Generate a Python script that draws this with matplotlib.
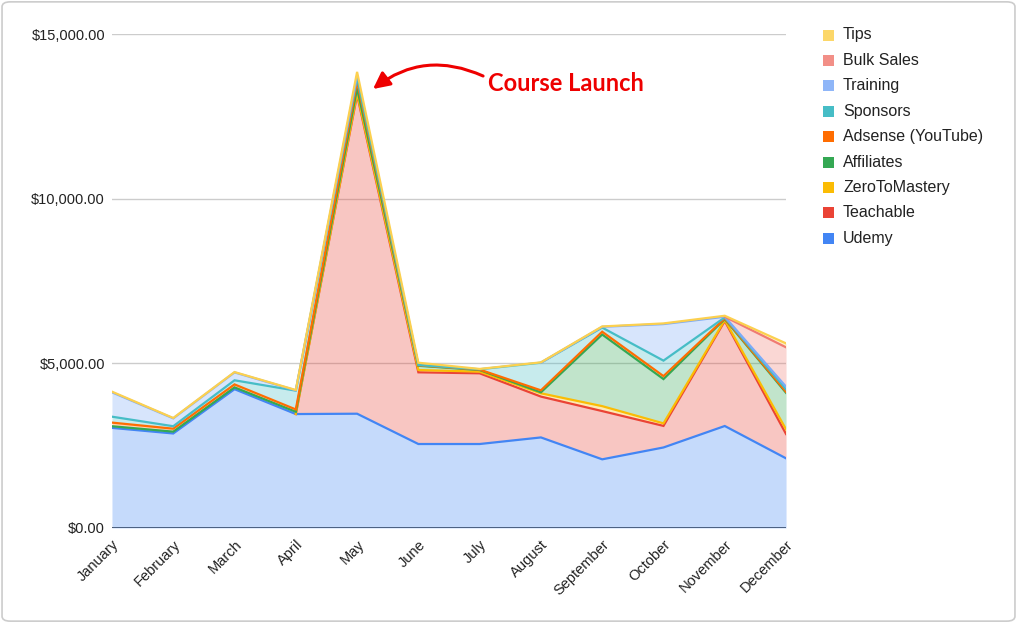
import numpy as np
import matplotlib
matplotlib.use("Agg")
import matplotlib.pyplot as plt
from matplotlib.patches import FancyBboxPatch, Rectangle

plt.rcParams['font.family'] = ['Liberation Sans', 'DejaVu Sans']

months = ['January', 'February', 'March', 'April', 'May', 'June', 'July',
          'August', 'September', 'October', 'November', 'December']

# monthly income per source (USD), stacked bottom -> top
udemy = [3040, 2870, 4215, 3460, 3470, 2550, 2550, 2750, 2085, 2445, 3097, 2115]
teachable = [0, 0, 0, 0, 9680, 2177, 2147, 1240, 1465, 655, 3188, 739]
zerotomastery = [0, 0, 0, 0, 50, 70, 50, 100, 150, 77, 30, 142]
affiliates = [50, 55, 55, 70, 150, 130, 50, 30, 2175, 1345, 30, 1110]
adsense = [110, 90, 90, 70, 200, 12, 13, 60, 85, 90, 20, 30]
sponsors = [180, 75, 125, 570, 130, 10, 10, 840, 125, 470, 30, 75]
training = [740, 240, 240, 10, 50, 0, 0, 0, 25, 1110, 20, 80]
bulk_sales = [0, 0, 0, 0, 0, 0, 0, 0, 0, 0, 0, 1195]
tips = [20, 10, 10, 10, 120, 70, 10, 10, 10, 20, 30, 120]

series_names = ['Udemy', 'Teachable', 'ZeroToMastery', 'Affiliates', 'Adsense (YouTube)',
                'Sponsors', 'Training', 'Bulk Sales', 'Tips']
series_vals = [udemy, teachable, zerotomastery, affiliates, adsense,
               sponsors, training, bulk_sales, tips]
colors = ['#4285F4', '#EA4335', '#FBBC04', '#34A853', '#FF6D01',
          '#46BDC6', '#7BAAF7', '#F07B72', '#FCD04F']

yticks = [0, 5000, 10000, 15000]

fig = plt.figure(figsize=(10.17, 6.23), dpi=100)
ax = fig.add_axes([0.1101, 0.1525, 0.6628, 0.7929])

x = np.arange(len(months))
vals = np.array(series_vals, dtype=float)
stack = np.cumsum(vals, axis=0)
base = np.zeros(len(months))

ax.axhline(0, color='#333333', lw=1.2, zorder=1)
for i, c in enumerate(colors):
    ax.fill_between(x, base, stack[i], color=c, alpha=0.3, lw=0, zorder=2)
    base = stack[i]
for i, c in enumerate(colors):
    line = stack[i].copy()
    # hide the line over runs where the series is zero (so lower lines stay visible)
    nxt = np.append(vals[i][1:], 1)
    line[(vals[i] == 0) & (nxt == 0)] = np.nan
    ax.plot(x, line, color=c, lw=1.6, zorder=3 + i * 0.01, solid_joinstyle='miter')

ax.set_xlim(0, len(months) - 1)
ax.set_ylim(0, 15000)
ax.set_yticks(yticks)
ax.set_yticklabels(['${:,.2f}'.format(v) for v in yticks], fontsize=10.5, color='#222222')
ax.set_xticks(x)
ax.set_xticklabels(months, rotation=45, ha='right', va='top', rotation_mode='anchor',
                   fontsize=10.5, color='#222222')
ax.tick_params(axis='y', length=0, pad=5)
ax.tick_params(axis='x', length=0, pad=7)
ax.grid(axis='y', color='#cccccc', lw=1, zorder=0)
ax.set_axisbelow(True)
for s in ax.spines.values():
    s.set_visible(False)

# annotation for the May spike
peak_idx = months.index('May')
ax.annotate('', xy=(peak_idx + 0.26, stack[-1][peak_idx] - 520),
            xytext=(0.475, 0.878), textcoords='figure fraction',
            arrowprops=dict(arrowstyle='-|>,head_length=1.0,head_width=0.5',
                            color='#EE0000', lw=2.2,
                            connectionstyle='arc3,rad=0.3', shrinkA=0, shrinkB=0))
fig.text(0.48, 0.866, 'Course Launch', fontsize=17, fontweight='bold', family='Lato',
         color='#EE0000', ha='left', va='center')

# legend, top entry first
for k, i in enumerate(range(len(series_names) - 1, -1, -1)):
    yc = 1 - (35 + k * 25.4) / 623
    fig.patches.append(Rectangle((823 / 1017, yc - 5.5 / 623), 11 / 1017, 11 / 623,
                                 transform=fig.transFigure, facecolor=colors[i],
                                 edgecolor='none', alpha=0.85 if i in (6, 7, 8) else 1))
    fig.text(843 / 1017, yc, series_names[i], fontsize=11.5, color='#222222',
             ha='left', va='center')

fig.patches.append(FancyBboxPatch((0.002, 0.003), 0.996, 0.994,
                                  boxstyle='round,pad=0,rounding_size=0.008',
                                  transform=fig.transFigure, facecolor='none',
                                  edgecolor='#cccccc', lw=1.2))

fig.savefig('out.png', dpi=100)
